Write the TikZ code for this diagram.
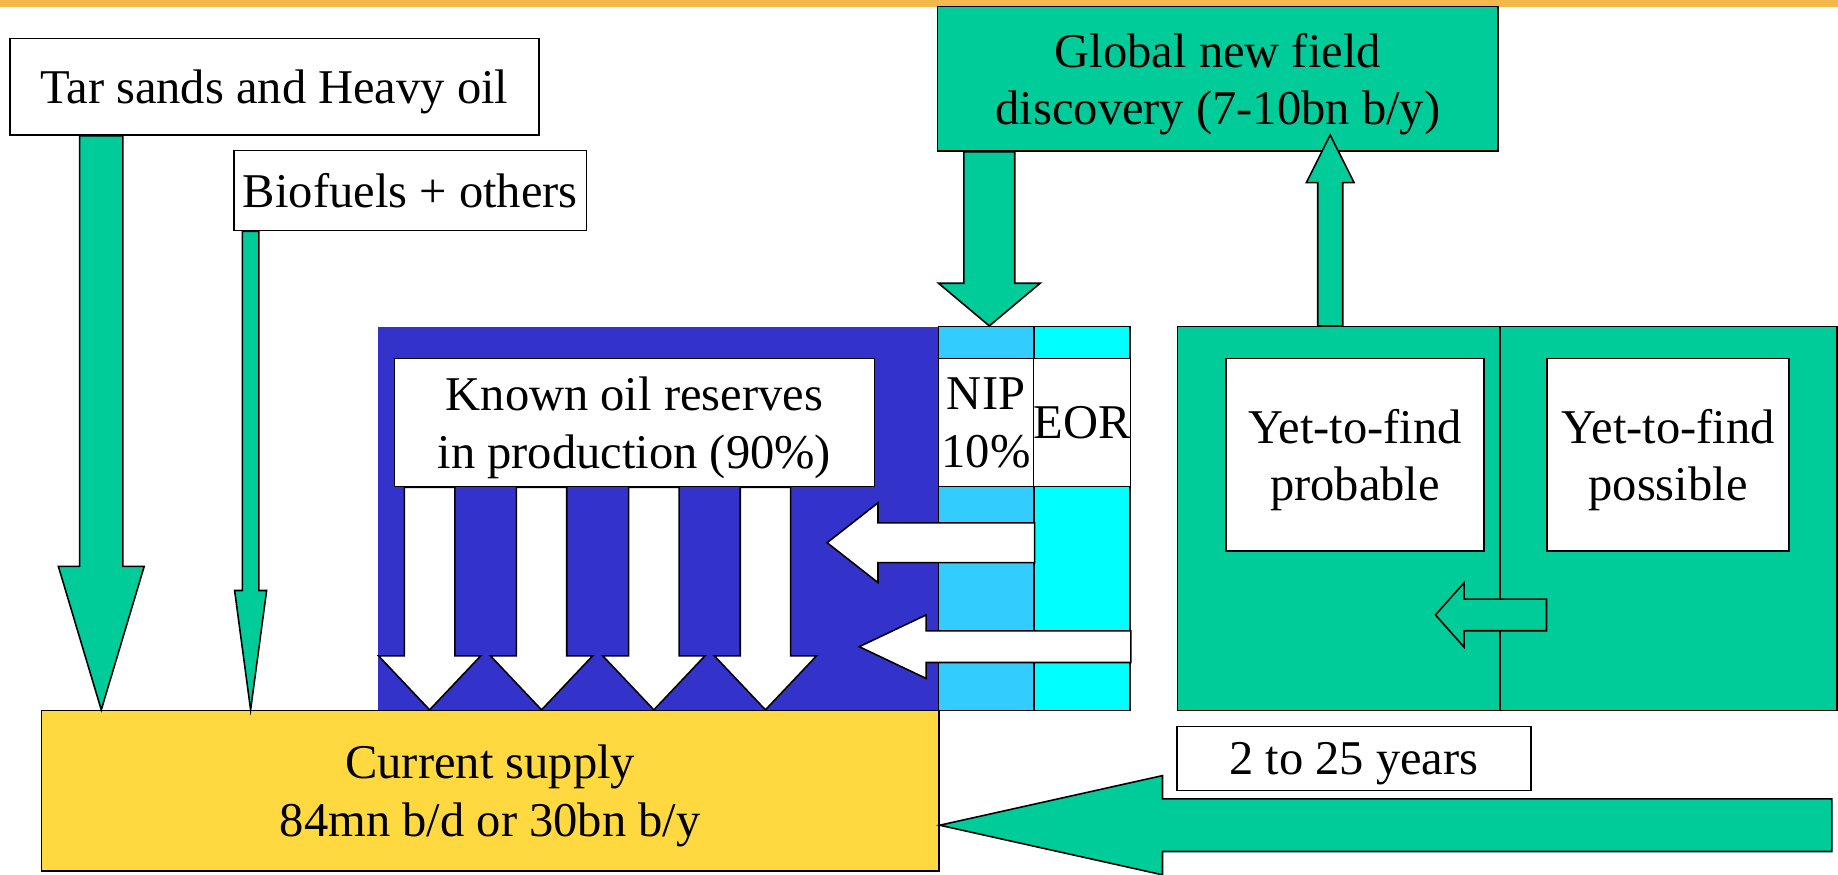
\documentclass[tikz,border=0pt]{standalone}
\usepackage{fontspec}
\setmainfont{Liberation Serif}
\usetikzlibrary{calc}

\definecolor{oilgreen}{HTML}{00CC99}
\definecolor{reserveblue}{HTML}{3333CC}
\definecolor{nipblue}{HTML}{33CCFF}
\definecolor{eorcyan}{HTML}{00FFFF}
\definecolor{supplyyellow}{HTML}{FFD93F}
\definecolor{topbar}{HTML}{F3B94B}

% [style]{tail}{tip}{half shaft}{half head}{head length}
\newcommand{\blockarrow}[6][]{%
  \coordinate (ba-t) at (#2);
  \coordinate (ba-p) at (#3);
  \coordinate (ba-h) at ($(ba-p)!#6!(ba-t)$);
  \draw[#1] ($(ba-t)!#4!90:(ba-p)$) -- ($(ba-h)!#4!-90:(ba-t)$)
    -- ($(ba-h)!#5!-90:(ba-t)$) -- (ba-p) -- ($(ba-h)!#5!90:(ba-t)$)
    -- ($(ba-h)!#4!90:(ba-t)$) -- ($(ba-t)!#4!-90:(ba-p)$) -- cycle;
}

\begin{document}
\begin{tikzpicture}[x=0.011722cm, y=-0.011722cm,
  every node/.style={font=\fontsize{13.8}{16.3}\selectfont, align=center},
  box/.style={draw, line width=.45pt, inner sep=0pt, text depth=-1pt},
  whitebox/.style={box, fill=white},
  greenbox/.style={box, fill=oilgreen},
  greenarrow/.style={draw, line width=.45pt, fill=oilgreen},
  whitearrow/.style={draw, line width=.45pt, fill=white}]
  \useasboundingbox (0,0) rectangle (1568,746);
  \fill[topbar] (0,0) rectangle (1568,5.7);

  \node[whitebox, minimum width=5.289cm, minimum height=0.967cm] (tar) at (234,74) {Tar sands and Heavy oil};
  \node[whitebox, minimum width=3.526cm, minimum height=0.801cm] (bio) at (350,162.6) {Biofuels + others};
  \node[greenbox, minimum width=5.603cm, minimum height=1.443cm] (global) at (1039,67.2) {Global new field\\discovery (7-10bn b/y)};
  \node[box, draw=none, fill=reserveblue, minimum width=5.605cm, minimum height=3.837cm] (reserves) at (561.4,442.4) {};
  \node[box, fill=nipblue, minimum width=0.955cm, minimum height=3.837cm] (nipcol) at (841.2,442.4) {};
  \node[box, fill=eorcyan, minimum width=0.961cm, minimum height=3.837cm] (eorcol) at (923,442.4) {};
  \node[whitebox, minimum width=4.8cm, minimum height=1.278cm] (known) at (541.2,360.5) {Known oil reserves\\in production (90\%)};
  \node[whitebox, minimum width=0.955cm, minimum height=1.278cm] (nip) at (841.2,360.5) {NIP\\10\%};
  \node[whitebox, minimum width=0.961cm, minimum height=1.278cm] (eor) at (923,360.5) {EOR};
  \node[greenbox, minimum width=3.224cm, minimum height=3.837cm] (probcol) at (1142.2,442.4) {};
  \node[greenbox, minimum width=3.368cm, minimum height=3.837cm] (posscol) at (1423.3,442.4) {};
  \node[whitebox, minimum width=2.579cm, minimum height=1.922cm] (prob) at (1156,388) {Yet-to-find\\probable};
  \node[whitebox, minimum width=2.415cm, minimum height=1.922cm] (poss) at (1423,388) {Yet-to-find\\possible};
  \node[box, fill=supplyyellow, minimum width=8.972cm, minimum height=1.602cm] (supply) at (418.2,674.6) {Current supply\\84mn b/d or 30bn b/y};
  \node[whitebox, minimum width=3.54cm, minimum height=0.639cm] (years) at (1155,647.2) {2 to 25 years};

  \coordinate (xtar) at (86.4,0);
  \coordinate (xbio) at (213.8,0);
  \coordinate (xglob) at (844,0);
  \coordinate (xup) at (1134.8,0);
  \coordinate (uptip) at (1134.8,115.2);
  \coordinate (niptip) at (705.6,463);
  \coordinate (eortip) at (733,551.7);
  \coordinate (ytftip) at (1224.6,524.6);
  \coordinate (bigtail) at (1562.7,704);

  \blockarrow[greenarrow]{xtar |- tar.south}{xtar |- supply.north}{0.216cm}{0.429cm}{1.434cm}
  \blockarrow[greenarrow]{xbio |- bio.south}{xbio |- supply.north}{0.083cm}{0.160cm}{1.193cm}
  \foreach \x in {366.5,462,557.8,653} {
    \coordinate (k) at (\x,0);
    \blockarrow[whitearrow]{k |- known.south}{k |- supply.north}{0.252cm}{0.510cm}{0.539cm}
  }
  \blockarrow[whitearrow]{niptip -| nipcol.east}{niptip}{0.199cm}{0.399cm}{0.509cm}
  \blockarrow[whitearrow]{eortip -| eorcol.east}{eortip}{0.158cm}{0.317cm}{0.668cm}
  \blockarrow[greenarrow]{xglob |- global.south}{xglob |- nipcol.north}{0.254cm}{0.508cm}{0.426cm}
  \blockarrow[greenarrow]{xup |- probcol.north}{uptip}{0.125cm}{0.239cm}{0.476cm}
  \blockarrow[greenarrow]{ytftip -| poss.west}{ytftip}{0.158cm}{0.322cm}{0.286cm}
  \blockarrow[greenarrow]{bigtail}{bigtail -| supply.east}{0.263cm}{0.496cm}{2.227cm}
\end{tikzpicture}
\end{document}
